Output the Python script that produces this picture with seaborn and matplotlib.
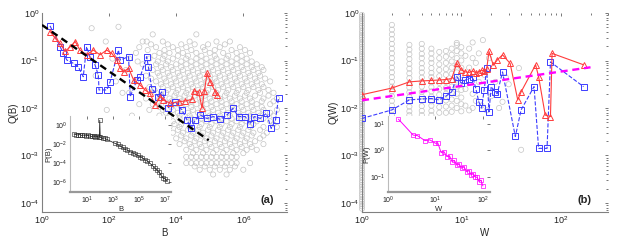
import numpy as np
import matplotlib
matplotlib.use("Agg")
import matplotlib.pyplot as plt
import seaborn as sns
from matplotlib.ticker import FixedLocator, LogLocator, NullFormatter, NullLocator

# ---------------- data (log10 values) ----------------
# panel (a): binned curves
blueA_logB = [0.24,0.54,0.64,0.74,0.94,1.08,1.23,1.33,1.43,1.58,1.68,1.70,1.93,2.03,2.28,2.33,2.58,2.63,2.83,2.93,
              3.12,3.17,3.27,3.47,3.57,3.77,3.97,4.17,4.32,4.44,4.57,4.72,4.92,5.11,5.31,5.51,5.69,5.86,6.06,6.19,
              6.33,6.51,6.69,6.83,6.96,7.05]
blueA_logQ = [-0.27,-0.71,-0.85,-0.99,-1.06,-1.13,-1.34,-0.71,-0.92,-1.09,-1.31,-1.62,-1.62,-1.45,-0.78,-0.99,-0.92,-1.76,-1.41,-1.34,
              -0.92,-1.13,-1.59,-1.76,-1.66,-1.99,-1.87,-2.04,-2.25,-2.43,-2.25,-2.15,-2.22,-2.18,-2.24,-2.15,-2.01,-2.18,-2.18,-2.34,
              -2.18,-2.22,-2.11,-2.43,-2.25,-1.78]
redA_logB = [0.24,0.39,0.54,0.69,0.84,0.99,1.13,1.33,1.53,1.73,1.93,2.08,2.23,2.33,2.43,2.58,2.73,2.93,3.07,3.22,
             3.37,3.52,3.62,3.82,4.07,4.27,4.47,4.52,4.67,4.77,4.84,4.92,5.02,5.17,5.21]
redA_logQ = [-0.39,-0.53,-0.64,-0.81,-0.71,-0.60,-0.78,-0.88,-0.78,-0.88,-0.78,-0.85,-0.99,-1.16,-1.24,-1.16,-1.41,-1.52,-1.62,-1.69,
             -1.94,-1.76,-1.83,-1.90,-1.87,-1.85,-1.82,-1.64,-1.66,-2.00,-1.64,-1.27,-1.45,-1.66,-1.73]
fitA_B = [1.0, 9.3e4]
fitA_Q = [0.56, 2.1e-3]

# panel (a): gray cloud, rows of equal log10 Q with their log10 B positions
cloudA_rows_logQ = [-0.29,-0.32,-0.45,-0.60,-0.72,-0.84,-0.96,-1.08,-1.20,-1.32,-1.44,-1.56,-1.68,-1.80,-1.92,-2.04,
                    -2.16,-2.28,-2.40,-2.52,-2.64,-2.76,-2.88,-3.03,-3.16,-3.30,-3.40]
cloudA_rows_logB = [
    [2.28],
    [1.48],
    [3.3, 4.6],
    [1.9, 3.0, 3.12, 3.6, 4.4, 5.2, 5.6],
    [2.9, 3.4, 3.9, 4.3, 4.8, 5.3, 5.9],
    [2.8, 3.5, 3.8, 4.2, 4.6, 5.0, 5.4, 5.8, 6.2],
    [2.1, 2.6, 3.2, 3.6, 3.9, 4.3, 4.6, 4.9, 5.2, 5.5, 5.8, 6.1],
    [3.0, 3.4, 3.7, 4.0, 4.3, 4.6, 4.9, 5.2, 5.5, 5.8, 6.1, 6.4],
    [2.5, 3.3, 3.6, 3.9, 4.2, 4.5, 4.8, 5.1, 5.4, 5.7, 6.0, 6.3, 6.6],
    [1.6, 3.1, 3.5, 3.8, 4.1, 4.4, 4.7, 5.0, 5.3, 5.6, 5.9, 6.2, 6.5],
    [2.2, 2.8, 3.4, 3.7, 4.0, 4.3, 4.6, 4.9, 5.2, 5.5, 5.8, 6.1, 6.4, 6.8],
    [3.2, 3.6, 3.9, 4.2, 4.5, 4.8, 5.1, 5.4, 5.7, 6.0, 6.3, 6.6],
    [2.4, 2.6, 3.4, 3.7, 4.0, 4.3, 4.6, 4.9, 5.2, 5.5, 5.8, 6.1, 6.5, 6.9],
    [3.1, 3.5, 3.8, 4.1, 4.4, 4.7, 5.0, 5.3, 5.6, 5.9, 6.2, 6.6, 7.0],
    [2.9, 3.3, 3.7, 4.0, 4.3, 4.6, 4.9, 5.2, 5.5, 5.8, 6.1, 6.4, 6.8],
    [1.93, 3.2, 3.6, 3.9, 4.2, 4.5, 4.8, 5.1, 5.4, 5.7, 6.0, 6.3, 6.6, 7.0],
    [2.68, 3.5, 3.8, 4.1, 4.4, 4.7, 5.0, 5.3, 5.6, 5.9, 6.2, 6.5, 6.9],
    [3.6, 3.9, 4.3, 4.6, 4.9, 5.2, 5.5, 5.8, 6.1, 6.4, 6.8],
    [3.8, 4.1, 4.4, 4.7, 5.0, 5.3, 5.6, 5.9, 6.2, 6.6, 7.0],
    [3.9, 4.2, 4.5, 4.8, 5.1, 5.4, 5.7, 6.0, 6.3, 6.7],
    [4.0, 4.3, 4.6, 4.9, 5.2, 5.5, 5.8, 6.1, 6.5],
    [4.1, 4.4, 4.7, 5.0, 5.3, 5.6, 5.9, 6.2, 6.6],
    [4.3, 4.6, 4.9, 5.2, 5.5, 5.8, 6.1, 6.4],
    [4.3, 4.45, 4.6, 4.75, 4.9, 5.05, 5.2, 5.35, 5.5, 5.65, 5.8],
    [4.3, 4.45, 4.6, 4.75, 4.9, 5.05, 5.2, 5.35, 5.5, 5.65, 5.8, 6.2],
    [4.7, 5.0, 5.3, 5.6, 6.0],
    [5.1, 5.5],
]
# second, staggered set of rows filling the dense middle of the cloud
cloudA2_rows_logQ = [-0.66,-0.78,-0.90,-1.02,-1.14,-1.26,-1.38,-1.50,-1.62,-1.74,-1.86,-1.98,-2.10,-2.22,-2.34,-2.46,
                     -2.58,-2.70,-2.82,-2.95,-3.23]
cloudA2_rows_logB = [
    [3.25, 3.75, 4.15, 4.55, 4.95, 5.45],
    [3.15, 3.65, 4.05, 4.45, 4.85, 5.15, 5.65, 6.05],
    [3.35, 3.65, 4.05, 4.35, 4.75, 5.15, 5.55, 5.95],
    [2.85, 3.45, 3.75, 4.15, 4.45, 4.75, 5.05, 5.35, 5.65, 5.95, 6.25],
    [3.15, 3.55, 3.85, 4.15, 4.45, 4.75, 5.05, 5.35, 5.65, 5.95, 6.25, 6.55],
    [3.45, 3.75, 4.05, 4.35, 4.65, 4.95, 5.25, 5.55, 5.85, 6.15, 6.45],
    [3.25, 3.65, 3.95, 4.25, 4.55, 4.85, 5.15, 5.45, 5.75, 6.05, 6.35, 6.65],
    [3.55, 3.85, 4.15, 4.45, 4.75, 5.05, 5.35, 5.65, 5.95, 6.25, 6.55],
    [3.35, 3.75, 4.05, 4.35, 4.65, 4.95, 5.25, 5.55, 5.85, 6.15, 6.45, 6.75],
    [3.55, 3.95, 4.25, 4.55, 4.85, 5.15, 5.45, 5.75, 6.05, 6.35, 6.75],
    [3.45, 3.85, 4.15, 4.45, 4.75, 5.05, 5.35, 5.65, 5.95, 6.25, 6.55, 6.9],
    [3.5, 3.85, 4.15, 4.45, 4.75, 5.05, 5.35, 5.65, 5.95, 6.25, 6.55],
    [3.7, 4.05, 4.35, 4.65, 4.95, 5.25, 5.55, 5.85, 6.15, 6.45, 6.8],
    [3.75, 4.1, 4.45, 4.75, 5.05, 5.35, 5.65, 5.95, 6.25, 6.6],
    [3.95, 4.15, 4.45, 4.75, 5.05, 5.35, 5.65, 5.95, 6.3, 6.9],
    [4.05, 4.35, 4.65, 4.95, 5.25, 5.55, 5.85, 6.15, 6.5],
    [4.15, 4.45, 4.75, 5.05, 5.35, 5.65, 5.95, 6.25, 6.6],
    [4.25, 4.55, 4.85, 5.15, 5.45, 5.75, 6.05, 6.35],
    [4.45, 4.75, 5.05, 5.35, 5.65, 5.95, 6.25],
    [4.5, 4.8, 5.1, 5.4, 5.7, 6.0],
    [4.55, 4.85, 5.15, 5.45, 5.75],
]

# panel (a) inset: P(B)
insA_logB = [0.0,0.15,0.3,0.45,0.6,0.75,0.9,1.05,1.2,1.35,1.5,1.65,1.8,1.95,1.98,2.02,2.2,2.35,2.5,
             3.15,3.35,3.54,3.75,3.92,4.1,4.31,4.5,4.69,4.9,5.08,5.25,5.46,5.65,5.85,6.05,6.23,6.4,6.55,6.7,6.87,7.0,7.13]
insA_logP = [-0.95,-1.0,-1.05,-1.0,-1.1,-1.05,-1.15,-1.1,-1.15,-1.2,-1.15,-1.25,-1.2,-1.3,0.5,-1.3,-1.4,-1.35,-1.5,
             -1.93,-2.05,-2.21,-2.35,-2.56,-2.65,-2.81,-2.9,-3.05,-3.2,-3.33,-3.45,-3.68,-3.8,-4.04,-4.3,-4.56,-4.75,-4.95,-5.3,-5.61,-5.65,-5.86]

# panel (b): binned curves
blueB_W = [1,2,3,4,5,6,7,8,9,10,11,12,13,14,15,16,17,18,19,20,22,23,26,35,40,54,60,73,79,170]
blueB_logQ = [-2.22,-2.04,-1.83,-1.81,-1.80,-1.83,-1.75,-1.66,-1.34,-1.48,-1.41,-1.38,-1.34,-1.59,-1.87,-2.00,-1.62,-1.16,-2.08,-1.55,
              -1.66,-1.70,-1.24,-2.60,-2.04,-1.55,-2.85,-2.85,-1.03,-1.55]
redB_W = [1,2,3,4,5,6,7,8,9,10,11,12,13,14,15,16,17,18,19,21,23,26,31,37,40,56,60,70,79,82,170]
redB_logQ = [-1.72,-1.58,-1.45,-1.43,-1.42,-1.41,-1.40,-1.38,-1.06,-1.20,-1.24,-1.25,-1.22,-1.26,-1.24,-1.20,-1.23,-1.18,-0.81,-1.10,
             -0.99,-0.88,-1.06,-1.83,-1.66,-1.09,-1.34,-2.15,-2.18,-0.85,-1.09]
fitB_W = [1.0, 200.0]
fitB_Q = [0.0145, 0.072]

# panel (b): gray columns at integer W (log10 Q)
grayB_col_W = [1, 1, 2, 3, 4, 5, 6, 7, 8, 9, 10]
grayB_col_logQ = [
    [-4.12,-4.02,-3.93,-3.82,-3.71,-3.62,-3.52,-3.41,-3.31,-3.22,-3.11,-3.01,-2.92,-2.81,-2.72,-2.61,-2.52,-2.41,-2.31,-2.22,
     -2.12,-2.02,-1.91,-1.82,-1.71,-1.62,-1.51,-1.42,-1.31,-1.22,-1.11,-1.02,-0.91,-0.82,-0.71,-0.62,-0.51,-0.42,-0.31,-0.22,-0.12,-0.04],
    [-4.07,-3.97,-3.87,-3.77,-3.66,-3.57,-3.46,-3.36,-3.27,-3.16,-3.06,-2.96,-2.86,-2.77,-2.66,-2.56,-2.46,-2.36,-2.27,-2.17,
     -2.07,-1.96,-1.87,-1.76,-1.66,-1.57,-1.46,-1.36,-1.27,-1.16,-1.06,-0.96,-0.87,-0.76,-0.66,-0.56,-0.47,-0.37,-0.27,-0.17,-0.08],
    [-0.25,-0.35,-0.45,-0.55,-0.65,-0.75,-0.85,-0.95,-1.05,-1.15,-1.25,-1.35,-1.45,-1.55,-1.65,-1.75,-1.85,-1.95,-2.05,-2.15],
    [-0.67,-0.77,-0.87,-0.97,-1.07,-1.17,-1.27,-1.37,-1.47,-1.57,-1.67,-1.77,-1.87,-1.97,-2.07,-2.15],
    [-0.65,-0.75,-0.86,-0.95,-1.06,-1.16,-1.25,-1.36,-1.46,-1.55,-1.66,-1.76,-1.85,-1.96,-2.06,-2.15],
    [-0.75,-0.85,-0.96,-1.05,-1.16,-1.26,-1.35,-1.46,-1.56,-1.65,-1.76,-1.86,-1.95,-2.06,-2.15],
    [-0.82,-0.95,-1.08,-1.2,-1.33,-1.47,-1.6,-1.72,-1.85,-1.98,-2.1],
    [-0.8,-0.92,-1.05,-1.18,-1.3,-1.45,-1.58,-1.7,-1.84,-1.97,-2.1],
    [-0.75,-0.88,-1.02,-1.15,-1.28,-1.42,-1.55,-1.68,-1.82,-1.95,-2.08],
    [-0.63,-0.67,-0.8,-0.95,-1.1,-1.25,-1.4,-1.55,-1.7,-1.85,-2.0],
    [-0.72,-0.85,-1.0,-1.15,-1.3,-1.45,-1.62,-1.78,-1.92,-2.07],
]
grayB_extra_W = [11,11,11,12,12,12,13,13,13,14,14,15,15,16.5,16,17,18,19,20,22,24,26,28,38,40,13,30]
grayB_extra_logQ = [-0.9,-1.6,-1.95,-0.75,-1.15,-2.05,-0.95,-2.0,-1.7,-1.05,-1.85,-0.85,-1.45,-0.57,-1.95,-1.3,-2.05,-0.95,-1.75,-1.45,
                    -2.0,-1.87,-1.35,-1.16,-2.88,-0.62,-1.5]

# panel (b) inset: P(W)
insB_logW = [0.22,0.53,0.62,0.78,0.88,1.0,1.05,1.12,1.18,1.24,1.30,1.35,1.40,1.45,1.50,1.55,1.60,1.66,1.71,1.75,1.80,1.83,1.88,1.92,1.96,2.0]
insB_logP = [1.18,0.58,0.56,0.37,0.40,0.27,0.28,-0.08,-0.05,-0.23,-0.22,-0.42,-0.38,-0.55,-0.52,-0.67,-0.62,-0.80,-0.76,-0.92,-0.88,-0.99,-1.02,-1.18,-1.12,-1.34]

# ---------------- styling ----------------
sns.set_theme(style="white")
plt.rcParams["font.family"] = ["Liberation Sans", "DejaVu Sans"]

BLUE = "#3c3cff"
RED = "#ff3c3c"
MAG = "#ff00ff"
GRAY = "#c4c4c4"


def p10(v):
    return np.power(10.0, np.asarray(v, dtype=float))


def style_axes(ax, fs):
    ax.set_facecolor("white")
    ax.grid(False)
    for s in ["top", "right"]:
        ax.spines[s].set_visible(False)
    for s in ["left", "bottom"]:
        ax.spines[s].set_color("#808080")
        ax.spines[s].set_linewidth(0.8)
    ax.tick_params(which="both", direction="in", top=True, right=True, colors="#606060",
                   labelcolor="#202020", labelsize=fs, width=0.6, pad=2)
    ax.tick_params(which="major", length=2.5)
    ax.tick_params(which="minor", length=1.5)


def gray_scatter(ax, x, y, clip=True):
    sns.scatterplot(x=x, y=y, ax=ax, marker="o", s=14, facecolors="none", edgecolor=GRAY,
                    linewidth=0.5, zorder=1, legend=False, clip_on=clip)


def curve(ax, x, y, color, ls, marker, ms, lw=0.8, mew=0.7, z=3):
    sns.lineplot(x=x, y=y, ax=ax, estimator=None, sort=False, color=color, linestyle=ls,
                 linewidth=lw, marker=marker, markersize=ms, markerfacecolor="none",
                 markeredgecolor=color, markeredgewidth=mew, zorder=z, legend=False)


fig = plt.figure(figsize=(6.39, 2.41), dpi=100)
axA = fig.add_axes([0.0657, 0.1203, 0.3834, 0.8257])
axB = fig.add_axes([0.5665, 0.1203, 0.3850, 0.8257])
insA = fig.add_axes([0.1095, 0.2033, 0.1581, 0.3154])
insB = fig.add_axes([0.6072, 0.2033, 0.1596, 0.3154])

for ax in (axA, axB, insA, insB):
    ax.set_xscale("log")
    ax.set_yscale("log")

# ---- panel (a) ----
cxA, cyA = [], []
for rows_q, rows_b in ((cloudA_rows_logQ, cloudA_rows_logB), (cloudA2_rows_logQ, cloudA2_rows_logB)):
    for q, row in zip(rows_q, rows_b):
        for b in row:
            cxA.append(b)
            cyA.append(q)
gray_scatter(axA, p10(cxA), p10(cyA))
curve(axA, p10(blueA_logB), p10(blueA_logQ), BLUE, "--", "s", 4.3)
curve(axA, p10(redA_logB), p10(redA_logQ), RED, "-", "^", 4.6)
sns.lineplot(x=fitA_B, y=fitA_Q, ax=axA, estimator=None, sort=False, color="black",
             linestyle=(0, (3, 2)), linewidth=1.7, zorder=4, legend=False)
axA.set_xlim(1, 2e7)
axA.set_ylim(10 ** -4.19, 1)
axA.xaxis.set_major_locator(FixedLocator([1, 1e2, 1e4, 1e6]))
axA.xaxis.set_minor_locator(NullLocator())
axA.yaxis.set_major_locator(FixedLocator([1e-4, 1e-3, 1e-2, 1e-1, 1]))
axA.yaxis.set_minor_locator(LogLocator(base=10, subs=np.arange(2, 10)))
axA.yaxis.set_minor_formatter(NullFormatter())
style_axes(axA, 6.5)
axA.set_xlabel("B", fontsize=7, labelpad=1)
axA.set_ylabel("Q(B)", fontsize=7, labelpad=1)
axA.text(0.92, 0.06, "(a)", transform=axA.transAxes, fontsize=8, fontweight="bold",
         ha="center", va="center")

# ---- panel (a) inset ----
curve(insA, p10(insA_logB), p10(insA_logP), "#202020", "-", "s", 3.2, lw=0.55, mew=0.4)
insA.set_xlim(10 ** -0.31, 10 ** 7.46)
insA.set_ylim(10 ** -7.05, 10 ** 0.95)
insA.xaxis.set_major_locator(FixedLocator([10, 1e3, 1e5, 1e7]))
insA.xaxis.set_minor_locator(NullLocator())
insA.yaxis.set_major_locator(FixedLocator([1e-6, 1e-4, 1e-2, 1]))
insA.yaxis.set_minor_locator(NullLocator())
style_axes(insA, 5)
insA.spines["bottom"].set_linewidth(1.6)
insA.spines["bottom"].set_color("#999999")
insA.spines["left"].set_color("#bbbbbb")
insA.set_xlabel("B", fontsize=5.5, labelpad=0)
insA.set_ylabel("P(B)", fontsize=5.5, labelpad=0)

# ---- panel (b) ----
gxB, gyB = [], []
for w, col in zip(grayB_col_W, grayB_col_logQ):
    for q in col:
        gxB.append(w)
        gyB.append(q)
gxB += grayB_extra_W
gyB += grayB_extra_logQ
gray_scatter(axB, np.asarray(gxB, dtype=float), p10(gyB), clip=False)
curve(axB, blueB_W, p10(blueB_logQ), BLUE, "--", "s", 4.3)
curve(axB, redB_W, p10(redB_logQ), RED, "-", "^", 4.6)
sns.lineplot(x=fitB_W, y=fitB_Q, ax=axB, estimator=None, sort=False, color=MAG,
             linestyle=(0, (3, 2)), linewidth=1.7, zorder=4, legend=False)
axB.set_xlim(1, 300)
axB.set_ylim(10 ** -4.19, 1)
axB.xaxis.set_major_locator(FixedLocator([1, 10, 100]))
axB.xaxis.set_minor_locator(LogLocator(base=10, subs=np.arange(2, 10)))
axB.xaxis.set_minor_formatter(NullFormatter())
axB.yaxis.set_major_locator(FixedLocator([1e-4, 1e-3, 1e-2, 1e-1, 1]))
axB.yaxis.set_minor_locator(LogLocator(base=10, subs=np.arange(2, 10)))
axB.yaxis.set_minor_formatter(NullFormatter())
style_axes(axB, 6.5)
axB.set_xlabel("W", fontsize=7, labelpad=1)
axB.set_ylabel("Q(W)", fontsize=7, labelpad=1)
axB.text(0.905, 0.06, "(b)", transform=axB.transAxes, fontsize=8, fontweight="bold",
         ha="center", va="center")

# ---- panel (b) inset ----
curve(insB, p10(insB_logW), p10(insB_logP), MAG, "-", "s", 3.2, lw=0.7, mew=0.5)
insB.set_xlim(1, 10 ** 2.15)
insB.set_ylim(10 ** -1.57, 10 ** 1.3)
insB.xaxis.set_major_locator(FixedLocator([1, 10, 100]))
insB.xaxis.set_minor_locator(NullLocator())
insB.yaxis.set_major_locator(FixedLocator([0.1, 1, 10]))
insB.yaxis.set_minor_locator(NullLocator())
style_axes(insB, 5)
insB.spines["bottom"].set_linewidth(1.6)
insB.spines["bottom"].set_color("#999999")
insB.spines["left"].set_color("#bbbbbb")
insB.set_xlabel("W", fontsize=5.5, labelpad=0)
insB.set_ylabel("P(W)", fontsize=5.5, labelpad=0)

fig.savefig("out.png", dpi=100, facecolor="white")
